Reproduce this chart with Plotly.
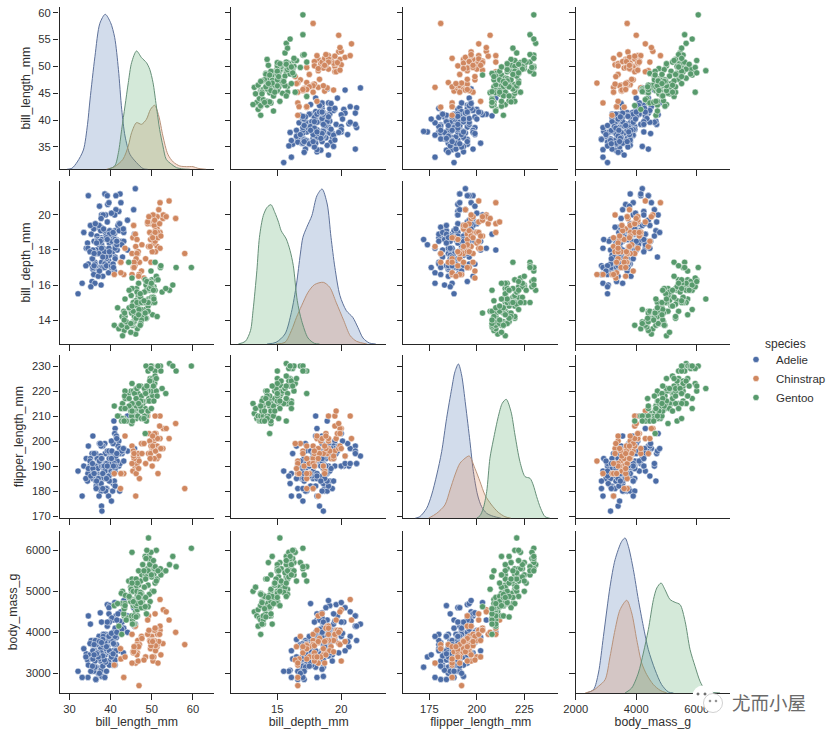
import plotly.graph_objects as go

VARS = ["bill_length_mm", "bill_depth_mm", "flipper_length_mm", "body_mass_g"]
SPECIES = ["Adelie", "Chinstrap", "Gentoo"]
COLORS = {"Adelie": "#4C72B0", "Chinstrap": "#DD8452", "Gentoo": "#55A868"}
DOTS = {"Adelie": "#4B6CA6", "Chinstrap": "#D0875F", "Gentoo": "#579A6C"}
EDGES = {"Adelie": "#5E7199", "Chinstrap": "#B8927A", "Gentoo": "#668F78"}

# (bill_length, bill_depth, flipper_length, body_mass)
adelie = [
(39.1,18.7,181,3750),(39.5,17.4,186,3800),(40.3,18.0,195,3250),(36.7,19.3,193,3450),(39.3,20.6,190,3650),
(38.9,17.8,181,3625),(39.2,19.6,195,4675),(34.1,18.1,193,3475),(42.0,20.2,190,4250),(37.8,17.1,186,3300),
(37.8,17.3,180,3700),(41.1,17.6,182,3200),(38.6,21.2,191,3800),(34.6,21.1,198,4400),(36.6,17.8,185,3700),
(38.7,19.0,195,3450),(42.5,20.7,197,4500),(34.4,18.4,184,3325),(46.0,21.5,194,4200),(37.8,18.3,174,3400),
(37.7,18.7,180,3600),(35.9,19.2,189,3800),(38.2,18.1,185,3950),(38.8,17.2,180,3800),(35.3,18.9,187,3800),
(40.6,18.6,183,3550),(40.5,17.9,187,3200),(37.9,18.6,172,3150),(40.5,18.9,180,3950),(39.5,16.7,178,3250),
(37.2,18.1,178,3900),(39.5,17.8,188,3300),(40.9,18.9,184,3900),(36.4,17.0,195,3325),(39.2,21.1,196,4150),
(38.8,20.0,190,3950),(42.2,18.5,180,3550),(37.6,19.3,181,3300),(39.8,19.1,184,4650),(36.5,18.0,182,3150),
(40.8,18.4,195,3900),(36.0,18.5,186,3100),(44.1,19.7,196,4400),(37.0,16.9,185,3000),(39.6,18.8,190,4600),
(41.1,19.0,182,3425),(36.0,17.9,190,3450),(42.3,21.2,191,4150),(39.6,17.7,186,3500),(40.1,18.9,188,4300),
(35.0,17.9,190,3450),(42.0,19.5,200,4050),(34.5,18.1,187,2900),(41.4,18.6,191,3700),(39.0,17.5,186,3550),
(40.6,18.8,193,3800),(36.5,16.6,181,2850),(37.6,19.1,194,3750),(35.7,16.9,185,3150),(41.3,21.1,195,4400),
(37.6,17.0,185,3600),(41.1,18.2,192,4050),(36.4,17.1,184,2850),(41.6,18.0,192,3950),(35.5,16.2,195,3350),
(41.1,19.1,188,4100),(35.9,16.6,190,3050),(41.8,19.4,198,4450),(33.5,19.0,190,3600),(39.7,18.4,190,3900),
(39.6,17.2,196,3550),(45.8,18.9,197,4150),(35.5,17.5,190,3700),(42.8,18.5,195,4250),(40.9,16.8,191,3700),
(37.2,19.4,184,3900),(36.2,16.1,187,3550),(42.1,19.1,195,4000),(34.6,17.2,189,3200),(42.9,17.6,196,4700),
(36.7,18.8,187,3800),(35.1,19.4,193,4200),(37.3,17.8,191,3350),(41.3,20.3,194,3550),(36.3,19.5,190,3800),
(36.9,18.6,189,3500),(38.3,19.2,189,3950),(38.9,18.8,190,3600),(35.7,18.0,202,3550),(41.1,18.1,205,4300),
(34.0,17.1,185,3400),(39.6,18.1,186,4450),(36.2,17.3,187,3300),(40.8,18.9,208,4300),(38.1,18.6,190,3700),
(40.3,18.5,196,4350),(33.1,16.1,178,2900),(43.2,18.5,192,4100),(35.0,17.9,192,3725),(41.0,20.0,203,4725),
(37.7,16.0,183,3075),(37.8,20.0,190,4250),(37.9,18.6,193,2925),(39.7,18.9,184,3550),(38.6,17.2,199,3750),
(38.2,20.0,190,3900),(38.1,17.0,181,3175),(43.2,19.0,197,4775),(38.1,16.5,198,3825),(45.6,20.3,191,4600),
(39.7,17.7,193,3200),(42.2,19.5,197,4275),(39.6,20.7,191,3900),(42.7,18.3,196,4075),(38.6,17.0,188,2900),
(37.3,20.5,199,3775),(35.7,17.0,189,3350),(41.1,18.6,189,3325),(36.2,17.2,187,3150),(37.7,19.8,198,3500),
(40.2,17.0,176,3450),(41.4,18.5,202,3875),(35.2,15.9,186,3050),(40.6,19.0,199,4000),(38.8,17.6,191,3275),
(41.5,18.3,195,4300),(39.0,17.1,191,3050),(44.1,18.0,210,4000),(38.5,17.9,190,3325),(43.1,19.2,197,3500),
(36.8,18.5,193,3500),(37.5,18.5,199,4475),(38.1,17.6,187,3425),(41.1,17.5,190,3900),(35.6,17.5,191,3175),
(40.2,20.1,200,3975),(37.0,16.5,185,3400),(39.7,17.9,193,4250),(40.2,17.1,193,3400),(40.6,17.2,187,3475),
(32.1,15.5,188,3050),(40.7,17.0,190,3725),(37.3,16.8,192,3000),(39.0,18.7,185,3650),(39.2,18.6,190,4250),
(36.6,18.4,184,3475),(36.0,17.8,195,3450),(37.8,18.1,193,3750),(36.0,17.1,187,3700),(41.5,18.5,201,4000),
]
chinstrap = [
(46.5,17.9,192,3500),(50.0,19.5,196,3900),(51.3,19.2,193,3650),(45.4,18.7,188,3525),(52.7,19.8,197,3725),
(45.2,17.8,198,3950),(46.1,18.2,178,3250),(51.3,18.2,197,3750),(46.0,18.9,195,4150),(51.3,19.9,198,3700),
(46.6,17.8,193,3800),(51.7,20.3,194,3775),(47.0,17.3,185,3700),(52.0,18.1,201,4050),(45.9,17.1,190,3575),
(50.5,19.6,201,4050),(50.3,20.0,197,3300),(58.0,17.8,181,3700),(46.4,18.6,190,3450),(49.2,18.2,195,4400),
(42.4,17.3,181,3600),(48.5,17.5,191,3400),(43.2,16.6,187,2900),(50.6,19.4,193,3800),(46.7,17.9,195,3300),
(52.0,19.0,197,4150),(50.5,18.4,200,3400),(49.5,19.0,200,3800),(46.4,17.8,191,3700),(52.8,20.0,205,4550),
(40.9,16.6,187,3200),(54.2,20.8,201,4300),(42.5,16.7,187,3350),(51.0,18.8,203,4100),(49.7,18.6,195,3600),
(47.5,16.8,199,3900),(47.6,18.3,195,3850),(52.0,20.7,210,4800),(46.9,16.6,192,2700),(53.5,19.9,205,4500),
(49.0,19.5,210,3950),(46.2,17.5,187,3650),(50.9,19.1,196,3550),(45.5,17.0,196,3500),(50.9,17.9,196,3675),
(50.8,18.5,201,4450),(50.1,17.9,190,3400),(49.0,19.6,212,4300),(51.5,18.7,187,3250),(49.8,17.3,198,3675),
(48.1,16.4,199,3325),(51.4,19.0,201,3950),(45.7,17.3,193,3600),(50.7,19.7,203,4050),(42.5,17.3,187,3350),
(52.2,18.8,197,3450),(45.2,16.6,191,3250),(49.3,19.9,203,4050),(50.2,18.8,202,3800),(45.6,19.4,194,3525),
(51.9,19.5,206,3950),(46.8,16.5,189,3650),(45.7,17.0,195,3650),(55.8,19.8,207,4000),(43.5,18.1,202,3400),
(49.6,18.2,193,3775),(50.8,19.0,210,4100),(50.2,18.7,198,3775),
]
gentoo = [
(46.1,13.2,211,4500),(50.0,16.3,230,5700),(48.7,14.1,210,4450),(50.0,15.2,218,5700),(47.6,14.5,215,5400),
(46.5,13.5,210,4550),(45.4,14.6,211,4800),(46.7,15.3,219,5200),(43.3,13.4,209,4400),(46.8,15.4,215,5150),
(40.9,13.7,214,4650),(49.0,16.1,216,5550),(45.5,13.7,214,4650),(48.4,14.6,213,5850),(45.8,14.6,210,4200),
(49.3,15.7,217,5850),(42.0,13.5,210,4150),(49.2,15.2,221,6300),(46.2,14.5,209,4800),(48.7,15.1,222,5350),
(50.2,14.3,218,5700),(45.1,14.5,215,5000),(46.5,14.5,213,4400),(46.3,15.8,215,5050),(42.9,13.1,215,5000),
(46.1,15.1,215,5100),(47.8,15.0,215,5650),(48.2,14.3,210,4600),(50.0,15.3,220,5550),(47.3,15.3,222,5250),
(42.8,14.2,209,4700),(45.1,14.5,207,5050),(59.6,17.0,230,6050),(49.1,14.8,220,5150),(48.4,16.3,220,5400),
(42.6,13.7,213,4950),(44.4,17.3,219,5250),(44.0,13.6,208,4350),(48.7,15.7,208,5350),(42.7,13.7,208,3950),
(49.6,16.0,225,5700),(45.3,13.7,210,4300),(49.6,15.0,216,4750),(50.5,15.9,222,5550),(43.6,13.9,217,4900),
(45.5,13.9,210,4200),(50.5,15.9,225,5400),(44.9,13.3,213,5100),(45.2,15.8,215,5300),(46.6,14.2,210,4850),
(48.5,14.1,220,5300),(45.1,14.4,210,4400),(50.1,15.0,225,5000),(46.5,14.4,217,4900),(45.0,15.4,220,5050),
(43.8,13.9,208,4300),(45.5,15.0,220,5000),(43.2,14.5,208,4450),(50.4,15.3,224,5550),(45.3,13.8,208,4200),
(46.2,14.9,221,5300),(45.7,13.9,214,4400),(54.3,15.7,231,5650),(45.8,14.2,219,4700),(49.8,16.8,230,5700),
(46.2,14.4,214,4650),(49.5,16.2,229,5800),(43.5,14.2,220,4700),(50.7,15.0,223,5550),(47.7,15.0,216,4750),
(46.4,15.6,221,5000),(48.2,15.6,221,5100),(46.5,14.8,217,5200),(46.4,15.0,216,4700),(48.6,16.0,230,5800),
(47.5,14.2,209,4600),(51.1,16.3,220,6000),(45.2,13.8,215,4750),(45.2,16.4,223,5950),(49.1,14.5,212,4625),
(52.5,15.6,221,5450),(47.4,14.6,212,4725),(50.0,15.9,224,5350),(44.9,13.8,212,4750),(50.8,17.3,228,5600),
(43.4,14.4,218,4600),(51.3,14.2,218,5300),(47.5,14.0,212,4875),(52.1,17.0,230,5550),(47.5,15.0,218,4950),
(52.2,17.1,228,5400),(45.5,14.5,212,4750),(49.5,16.1,224,5650),(44.5,14.7,214,4850),(50.8,15.7,226,5200),
(49.4,15.8,216,4925),(46.9,14.6,222,4875),(48.4,14.4,203,4625),(51.1,16.5,225,5250),(48.5,15.0,219,4850),
(55.9,17.0,228,5600),(47.2,15.5,215,4975),(49.1,15.0,228,5500),(47.3,13.8,216,4725),(46.8,16.1,215,5500),
(41.7,14.7,210,4700),(53.4,15.8,219,5500),(43.3,14.0,208,4575),(48.1,15.1,209,5500),(50.5,15.2,216,5000),
(49.8,15.9,229,5950),(43.5,15.2,213,4650),(51.5,16.3,230,5500),(46.2,14.1,217,4375),(55.1,16.0,230,5850),
(44.5,15.7,217,4875),(48.8,16.2,222,6000),(47.2,13.7,214,4925),(46.8,14.3,215,4850),(50.4,15.7,222,5750),
(45.2,14.8,212,5200),(49.9,16.1,213,5400),
]
ROWS = {"Adelie": adelie, "Chinstrap": chinstrap, "Gentoo": gentoo}

# density curves: (value, relative height)
kde_bill_length = {
 "Adelie": [(29.4,0),(30.6,3),(31.9,22),(33.4,58),(34.4,135),(35,208),(36.2,338),(37.4,438),(38.7,465),(40,440),(41,395),(41.9,300),(42.7,180),(43.5,100),(44.7,45),(46.3,20),(47.9,2),(49,0)],
 "Chinstrap": [(39,0),(41,8),(43,30),(44.3,70),(45.1,110),(46.3,140),(47.5,135),(48.7,150),(49.7,180),(50.7,192),(51.7,160),(52.7,100),(53.9,45),(55.2,22),(56.8,10),(58.4,8),(60,8),(61.2,3),(63.2,0)],
 "Gentoo": [(39.4,0),(41,10),(41.9,50),(42.7,120),(43.5,190),(44.3,260),(45.1,320),(46.3,355),(47.5,335),(48.7,320),(49.5,300),(50.3,260),(51.1,190),(51.9,120),(52.7,70),(53.5,30),(54.8,15),(56,5),(57.6,1),(59.2,0)],
}
kde_bill_depth = {
 "Adelie": [(14.2,0),(14.9,5),(15.6,30),(16.1,95),(16.5,180),(16.8,270),(17,320),(17.3,350),(17.7,385),(18.1,445),(18.5,465),(18.9,420),(19.2,320),(19.5,230),(19.9,145),(20.4,100),(20.9,80),(21.3,50),(21.7,18),(22.2,3),(22.7,0)],
 "Chinstrap": [(14.9,0),(15.6,5),(16.1,40),(16.5,80),(16.9,115),(17.4,155),(17.9,178),(18.6,185),(19.1,170),(19.6,125),(20.2,70),(20.7,25),(21.2,8),(22,0)],
 "Gentoo": [(11.95,0),(12.5,8),(12.9,40),(13.1,100),(13.4,220),(13.6,320),(13.9,385),(14.2,410),(14.5,418),(14.8,395),(15.1,365),(15.3,340),(15.7,315),(16,280),(16.25,235),(16.56,130),(16.9,70),(17.4,18),(17.9,2),(18.3,0)],
}
kde_flipper = {
 "Adelie": [(167.5,0),(170,5),(173.6,30),(176.2,70),(178.9,130),(181.5,200),(184.1,300),(186.8,390),(188.5,440),(190.3,463),(192,430),(194.1,340),(196.4,230),(198.2,140),(200.4,70),(202.5,35),(205.2,15),(208.7,6),(213,0)],
 "Chinstrap": [(174.5,0),(178.9,15),(183.2,40),(185.9,85),(188.5,130),(191.1,165),(193.8,180),(196,187),(199,150),(201.7,110),(204.3,70),(207.8,40),(211.3,18),(214.8,5),(218,0)],
 "Gentoo": [(199.9,0),(201.7,8),(203.4,30),(205.2,80),(206.9,180),(208.7,235),(211.3,305),(213.4,345),(215.5,357),(218,320),(220.1,250),(222.7,170),(225.4,125),(228,120),(229.7,100),(231.5,65),(233.6,30),(235.9,5),(238.5,0)],
}
kde_mass = {
 "Adelie": [(2360,0),(2585,10),(2750,60),(2915,170),(3135,320),(3300,400),(3520,455),(3630,465),(3740,440),(3905,370),(4070,280),(4235,200),(4400,130),(4620,70),(4840,25),(5065,3),(5230,0)],
 "Chinstrap": [(2310,0),(2585,8),(2750,20),(2970,40),(3135,110),(3300,190),(3465,250),(3686,278),(3850,240),(4016,160),(4180,90),(4347,55),(4568,25),(4790,8),(5010,0)],
 "Gentoo": [(3630,0),(3850,15),(4070,60),(4235,120),(4400,190),(4568,280),(4680,315),(4820,330),(4950,310),(5120,280),(5285,272),(5450,265),(5615,215),(5780,130),(5945,80),(6110,35),(6275,10),(6440,3),(6770,0)],
}
KDE = [kde_bill_length, kde_bill_depth, kde_flipper, kde_mass]

TICKS = [[30, 40, 50, 60], [15, 20], [175, 200, 225], [2000, 4000, 6000]]
YTICKS = [[35, 40, 45, 50, 55, 60], [14, 16, 18, 20], [170, 180, 190, 200, 210, 220, 230], [3000, 4000, 5000, 6000]]
XRANGE = [[27.6, 65.1], [11.4, 23.5], [161.3, 242.9], [1998, 7100]]
YRANGE = [[30.84, 61.06], [12.63, 21.94], [169.1, 234.4], [2520, 6470]]
YTITLE_STANDOFF = [4, 4, 5, 5]

W, H = 835, 737
COLS_PX = [(59.5, 214), (231.3, 386), (403.3, 558.3), (575.7, 730)]
ROWS_PX = [(7, 169.3), (181, 344), (355, 518.3), (531, 693)]
INK = "#262626"
TEXT = "#303030"
FONT = "Liberation Sans, Arial, sans-serif"


def rgba(hex_color, a):
    r, g, b = int(hex_color[1:3], 16), int(hex_color[3:5], 16), int(hex_color[5:7], 16)
    return f"rgba({r},{g},{b},{a})"


fig = go.Figure()
layout = {}
for r in range(4):
    for c in range(4):
        k = r * 4 + c + 1
        base = dict(showgrid=False, zeroline=False, showline=True, linecolor=INK, linewidth=1.2,
                    ticks="outside", ticklen=5.5, tickwidth=1.2, tickcolor=INK, automargin=False,
                    tickfont=dict(family=FONT, size=11.2, color=TEXT), tickmode="array")
        xdom = [COLS_PX[c][0] / W, COLS_PX[c][1] / W]
        ydom = [1 - ROWS_PX[r][1] / H, 1 - ROWS_PX[r][0] / H]
        xa = dict(base, domain=xdom, range=XRANGE[c], tickvals=TICKS[c], anchor=f"y{k}", showticklabels=r == 3)
        ya = dict(base, domain=ydom, range=YRANGE[r], tickvals=YTICKS[r], anchor=f"x{k}", showticklabels=c == 0)
        if r == 3:
            xa["title"] = dict(text=VARS[c], font=dict(family=FONT, size=12.3, color=TEXT), standoff=2)
        if c == 0:
            ya["title"] = dict(text=VARS[r], font=dict(family=FONT, size=12.3, color=TEXT), standoff=YTITLE_STANDOFF[r])
        layout[f"xaxis{k}"] = xa
        layout[f"yaxis{k}"] = ya

        if r == c:
            # an empty trace keeps the panel's own shared axes on the page
            fig.add_trace(go.Scatter(x=[None], y=[None], xaxis=f"x{k}", yaxis=f"y{k}", mode="markers",
                                     showlegend=False, hoverinfo="skip"))
            d = 17 + r
            layout[f"xaxis{d}"] = dict(domain=xdom, range=XRANGE[c], anchor=f"y{d}", visible=False)
            layout[f"yaxis{d}"] = dict(domain=ydom, range=[0, (ROWS_PX[r][1] - ROWS_PX[r][0]) * 3],
                                       anchor=f"x{d}", visible=False)
            for sp in SPECIES:
                curve = KDE[r][sp]
                fig.add_trace(go.Scatter(
                    x=[p[0] for p in curve], y=[p[1] for p in curve], xaxis=f"x{d}", yaxis=f"y{d}",
                    mode="lines", line=dict(color=EDGES[sp], width=1, shape="spline", smoothing=0.8),
                    fill="tozeroy", fillcolor=rgba(COLORS[sp], 0.25), showlegend=False, hoverinfo="skip"))
        else:
            for sp in SPECIES:
                rows = ROWS[sp]
                fig.add_trace(go.Scatter(
                    x=[t[c] for t in rows], y=[t[r] for t in rows], xaxis=f"x{k}", yaxis=f"y{k}",
                    mode="markers", name=sp, showlegend=(r == 1 and c == 0),
                    marker=dict(color=DOTS[sp], size=6.2, line=dict(color="white", width=0.5))))


def px(xp):
    return xp / W


def py(yp):
    return 1 - yp / H


def circle(cx, cy, rad, fill, line):
    return dict(type="circle", xref="paper", yref="paper", x0=px(cx - rad), x1=px(cx + rad),
                y0=py(cy + rad), y1=py(cy - rad), fillcolor=fill, line=dict(color=line, width=0.8), layer="above")


shapes = [
    circle(703, 696, 10.5, "white", "rgba(255,255,255,0)"),
    circle(713, 703, 9.5, "white", "#c4c4c4"),
    circle(698, 694, 1.1, "#666666", "#666666"),
    circle(705, 694, 1.1, "#666666", "#666666"),
    circle(710, 701, 0.9, "#888888", "#888888"),
    circle(716, 701, 0.9, "#888888", "#888888"),
]

fig.update_layout(
    width=W, height=H, margin=dict(l=0, r=0, t=0, b=0, autoexpand=False), paper_bgcolor="white",
    plot_bgcolor="rgba(0,0,0,0)", showlegend=True,
    legend=dict(x=px(736), y=py(345), xanchor="left", yanchor="top", bgcolor="rgba(0,0,0,0)",
                font=dict(family=FONT, size=11.5, color=TEXT), itemclick=False, itemdoubleclick=False),
    shapes=shapes,
    annotations=[
        dict(text="species", xref="paper", yref="paper", x=px(785), y=py(344), xanchor="center", yanchor="middle",
             showarrow=False, font=dict(family=FONT, size=12, color=TEXT)),
        dict(text="尤而小屋", xref="paper", yref="paper", x=px(769), y=py(702), xanchor="center",
             yanchor="middle", showarrow=False,
             font=dict(family="Noto Sans CJK SC", size=18.5, color="#6a6a6a", shadow="1px 1px 2px white")),
    ],
    **layout,
)

fig.write_html("out.html", config={"displayModeBar": False}, post_script="document.body.style.margin='0';")
